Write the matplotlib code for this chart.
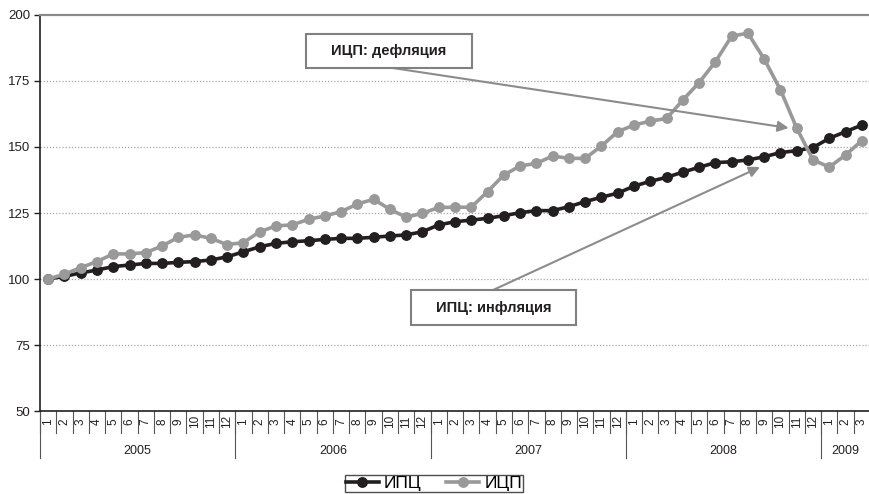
import matplotlib
matplotlib.use("Agg")
import matplotlib.pyplot as plt
from matplotlib.patches import Rectangle
from matplotlib.transforms import blended_transform_factory

plt.rcParams['font.family'] = ['Liberation Sans', 'DejaVu Sans']

years = ["2005", "2006", "2007", "2008", "2009"]
months_per_year = [12, 12, 12, 12, 3]
month_labels = [str(m) for n in months_per_year for m in range(1, n + 1)]

cpi = [100.0, 101.0, 102.3, 103.4, 104.7, 105.3, 105.9, 105.9, 106.3, 106.6, 107.2, 108.4,
       110.3, 112.2, 113.5, 114.1, 114.5, 115.0, 115.4, 115.4, 115.8, 116.3, 116.7, 117.9,
       120.5, 121.7, 122.3, 123.0, 124.0, 125.1, 125.9, 125.9, 127.4, 129.3, 131.0, 132.5,
       135.2, 137.0, 138.5, 140.5, 142.3, 144.1, 144.4, 145.1, 146.3, 147.9, 148.6, 149.8,
       153.3, 155.8, 158.3]
ppi = [100.0, 101.8, 104.3, 106.6, 109.5, 109.5, 110.0, 112.5, 115.8, 116.7, 115.4, 113.0,
       113.8, 117.9, 120.1, 120.5, 122.6, 123.9, 125.5, 128.4, 130.2, 126.4, 123.4, 124.9,
       127.1, 127.2, 127.2, 133.1, 139.4, 142.8, 143.8, 146.6, 145.7, 145.7, 150.4, 155.8,
       158.3, 159.8, 160.8, 167.8, 174.4, 182.3, 192.0, 193.1, 183.3, 171.6, 157.1, 145.1,
       142.4, 147.0, 152.4]

series_names = ["ИПЦ", "ИЦП"]
note_ppi = "ИЦП: дефляция"
note_cpi = "ИПЦ: инфляция"

BLACK = "#231f20"
GRAY = "#999999"
ARROW = "#8c8c8c"

fig = plt.figure(figsize=(8.7, 4.94), dpi=100)
ax = fig.add_axes([40 / 870, 1 - 411 / 494, 830 / 870, 396 / 494])

x = list(range(len(cpi)))
ax.plot(x, cpi, color=BLACK, lw=2.6, marker='o', ms=6.8, mfc=BLACK, mec=BLACK,
        label=series_names[0], zorder=3, clip_on=False)
ax.plot(x, ppi, color=GRAY, lw=2.6, marker='o', ms=6.8, mfc=GRAY, mec=GRAY,
        label=series_names[1], zorder=4, clip_on=False)

ax.set_xlim(-0.5, len(cpi) - 0.5)
ax.set_ylim(50, 200)
ax.set_yticks([50, 75, 100, 125, 150, 175, 200])
ax.tick_params(axis='y', labelsize=9.5, length=4, width=1, pad=3, color=BLACK)
for t in ax.get_yticklabels():
    t.set_color(BLACK)

for yv in [75, 100, 125, 150, 175]:
    ax.axhline(yv, color="#a8a8a8", lw=0.9, ls=(0, (1, 1.5)), zorder=1)

ax.spines['right'].set_visible(False)
ax.spines['top'].set_color("#8a8a8a")
ax.spines['top'].set_linewidth(1.6)
ax.spines['left'].set_color(BLACK)
ax.spines['left'].set_linewidth(1.2)
ax.spines['bottom'].set_color(BLACK)
ax.spines['bottom'].set_linewidth(1.2)

# category axis: month numbers with separators, grouped by year
ax.set_xticks([])
trans = blended_transform_factory(ax.transData, ax.transAxes)
def below(px):
    return -px / 396

n = len(month_labels)
for i, lab in enumerate(month_labels):
    ax.text(i, below(10.5), lab, transform=trans, rotation=90, ha='center', va='center',
            fontsize=8.5, color=BLACK)
for i in range(n + 1):
    ax.plot([i - 0.5, i - 0.5], [0, below(22)], transform=trans, color="#555555",
            lw=0.8, clip_on=False)

start = 0
for yr, cnt in zip(years, months_per_year):
    ax.plot([start - 0.5, start - 0.5], [0, below(47)], transform=trans, color="#555555",
            lw=0.8, clip_on=False)
    ax.text(start + cnt / 2 - 0.5, below(40), yr, transform=trans, ha='center', va='center',
            fontsize=9, color=BLACK)
    start += cnt

# callout boxes with arrows
def callout(text, box, tail, tip):
    x0, x1, y0, y1 = box
    ax.add_patch(Rectangle((x0, y0), x1 - x0, y1 - y0, facecolor='white',
                           edgecolor="#808080", lw=1.5, zorder=6, clip_on=False))
    ax.text((x0 + x1) / 2, (y0 + y1) / 2, text, ha='center', va='center',
            fontsize=10.5, fontweight='bold', color=BLACK, zorder=7)
    ax.annotate("", xy=tip, xytext=tail,
                arrowprops=dict(arrowstyle='-|>', color=ARROW, lw=1.5,
                                mutation_scale=16, shrinkA=0, shrinkB=0),
                zorder=5)

callout(note_ppi, (15.84, 26.04, 179.9, 192.8), (21.2, 179.9), (45.5, 157.2))
callout(note_cpi, (22.3, 32.43, 82.6, 95.8), (27.33, 95.8), (43.74, 142.4))

leg = fig.legend(loc='upper center', bbox_to_anchor=(434 / 870, 1 - 475 / 494), ncol=2,
                 frameon=True, fancybox=False, fontsize=12.5, handlelength=1.9,
                 handletextpad=0.3, columnspacing=1.4, borderpad=0.05, borderaxespad=0)
leg.get_frame().set_edgecolor(BLACK)
leg.get_frame().set_linewidth(1.0)
for h in leg.legend_handles:
    h.set_markersize(6.8)

fig.savefig("out.png", dpi=100)
